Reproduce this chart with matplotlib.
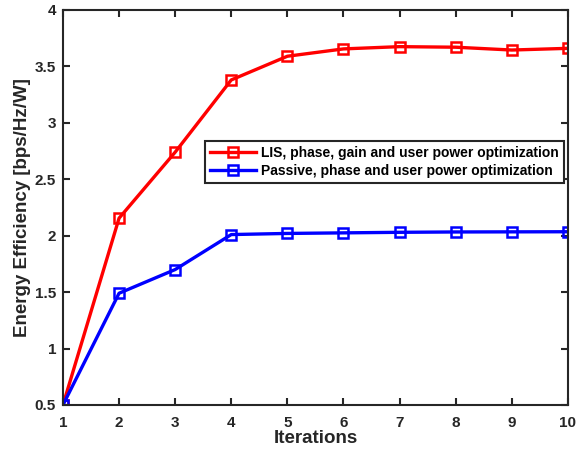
import matplotlib.pyplot as plt
import numpy as np

plt.rcParams['font.family'] = ['Liberation Sans', 'DejaVu Sans']
plt.rcParams['font.weight'] = 'bold'

iterations = [1, 2, 3, 4, 5, 6, 7, 8, 9, 10]
lis_ee = [0.5, 2.155, 2.74, 3.38, 3.59, 3.655, 3.675, 3.67, 3.645, 3.66]
passive_ee = [0.5, 1.49, 1.70, 2.01, 2.02, 2.025, 2.03, 2.033, 2.034, 2.035]
labels = ['LIS, phase, gain and user power optimization',
          'Passive, phase and user power optimization']

fig = plt.figure(figsize=(5.83, 4.53), dpi=100)
ax = fig.add_axes([0.108, 0.106, 0.866, 0.872])

ax.plot(iterations, lis_ee, color='red', lw=2.4, marker='s', ms=6.5,
        mfc='none', mew=1.8, label=labels[0])
ax.plot(iterations, passive_ee, color='blue', lw=2.4, marker='s', ms=6.5,
        mfc='none', mew=1.8, label=labels[1])

ax.set_xlim(1, 10)
ax.set_ylim(0.5, 4)
ax.set_xticks(iterations)
ax.set_yticks(np.arange(0.5, 4.01, 0.5))
ax.set_yticklabels(['0.5', '1', '1.5', '2', '2.5', '3', '3.5', '4'])
ax.tick_params(direction='in', top=True, right=True, length=5, width=1.5,
               labelsize=11, colors='#262626')
ax.tick_params(axis='x', pad=8)
ax.tick_params(axis='y', pad=5)
for lab in ax.get_xticklabels() + ax.get_yticklabels():
    lab.set_fontweight('bold')
for sp in ax.spines.values():
    sp.set_linewidth(1.5)
    sp.set_color('#262626')

ax.set_xlabel('Iterations', fontsize=13.5, fontweight='bold', color='#262626')
ax.set_ylabel('Energy Efficiency [bps/Hz/W]', fontsize=13.5, fontweight='bold', color='#262626')
ax.xaxis.set_label_coords(0.5, -0.084)
ax.yaxis.set_label_coords(-0.08, 0.5)
ax.xaxis.label.set_va('center')
ax.yaxis.label.set_va('center')

leg = ax.legend(loc='upper left', bbox_to_anchor=(0.281, 0.668), fontsize=10,
                fancybox=False, framealpha=1, edgecolor='#262626',
                handlelength=3.3, handletextpad=0.4, borderpad=0.35,
                labelspacing=0.3, borderaxespad=0)
leg.get_frame().set_linewidth(1.5)
for t in leg.get_texts():
    t.set_fontweight('bold')

fig.savefig('out.png', dpi=100)
